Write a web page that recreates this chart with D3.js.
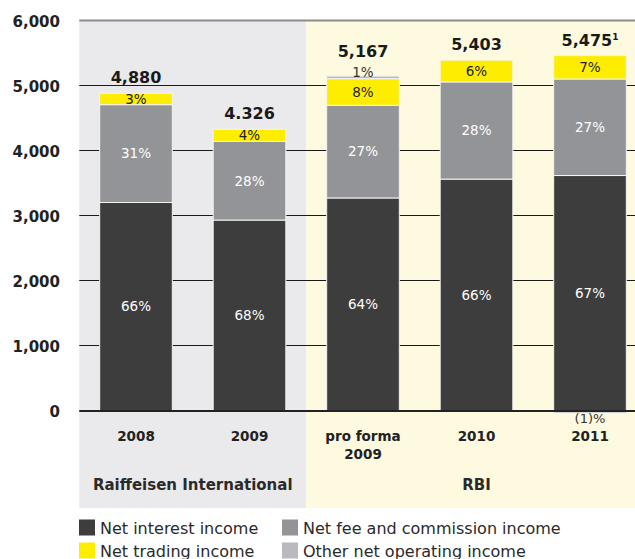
<!DOCTYPE html>
<html><head><meta charset="utf-8">
<script src="https://cdn.jsdelivr.net/npm/d3@7"></script>
<style>
body{margin:0;background:#fff;}
text{font-family:"DejaVu Sans",sans-serif;}
</style></head>
<body><svg id="chart" width="635" height="559"></svg>
<script>
const categories = ["2008", "2009", "pro forma 2009", "2010", "2011"];
const categoryLines = [["2008"], ["2009"], ["pro forma", "2009"], ["2010"], ["2011"]];
const netInterest = [3200, 2930, 3270, 3560, 3615];
const netFee = [1505, 1210, 1425, 1495, 1485];
const netTrading = [175, 186, 410, 335, 360];
const otherOperating = [0, 0, 40, 0, -40];
const pctInterest = ["66%", "68%", "64%", "66%", "67%"];
const pctFee = ["31%", "28%", "27%", "28%", "27%"];
const pctTrading = ["3%", "4%", "8%", "6%", "7%"];
const pctOther = [null, null, "1%", null, "(1)%"];
const totalLabels = ["4,880", "4.326", "5,167", "5,403", "5,475"];
const totalFootnote = [null, null, null, null, "1"];
const yTicks = [0, 1000, 2000, 3000, 4000, 5000, 6000];
const groupNames = ["Raiffeisen International", "RBI"];
const groupOf = [0, 0, 1, 1, 1];
const seriesNames = ["Net interest income", "Net fee and commission income", "Net trading income", "Other net operating income"];

const colors = {interest: "#3d3d3d", fee: "#939497", trading: "#ffed00", other: "#b9babd"};
const seriesColors = [colors.interest, colors.fee, colors.trading, colors.other];
const groupBg = ["#eaeaec", "#fefae0"];

const svg = d3.select("#chart");
const W = 635;
const x = d3.scaleBand().domain(categories).range([79.25, 646.75]).paddingInner(0.36).paddingOuter(0.18);
const y = d3.scaleLinear().domain([0, 6000]).range([410.5, 20.5]);
const step = x.step(), bw = x.bandwidth();
const halfGap = step * 0.36 / 2;

// group backgrounds
groupNames.forEach((g, gi) => {
  const cats = categories.filter((c, i) => groupOf[i] === gi);
  const x0 = x(cats[0]) - halfGap;
  const x1 = Math.min(W, x(cats[cats.length - 1]) + bw + halfGap);
  svg.append("rect").attr("x", x0).attr("y", y(6000)).attr("width", x1 - x0).attr("height", 508 - y(6000)).attr("fill", groupBg[gi]);
  const cx = d3.mean(cats, c => x(c) + bw / 2);
  svg.append("text").attr("x", cx).attr("y", 490).attr("text-anchor", "middle")
    .attr("font-size", 15).attr("font-weight", "bold").attr("fill", "#2a2a2a").text(g);
});

const plotLeft = x(categories[0]) - halfGap;
// gridlines
svg.append("g").selectAll("line").data(yTicks.filter(t => t > 0 && t < 6000)).join("line")
  .attr("x1", plotLeft).attr("x2", W).attr("y1", d => y(d)).attr("y2", d => y(d))
  .attr("stroke", "#1a1a1a").attr("stroke-width", 1);
svg.append("line").attr("x1", plotLeft).attr("x2", W).attr("y1", y(6000)).attr("y2", y(6000))
  .attr("stroke", "#8c8c8c").attr("stroke-width", 2.2);

// y axis labels
const yAxis = d3.axisLeft(y).tickValues(yTicks).tickSize(0).tickPadding(0).tickFormat(d3.format(","));
const ya = svg.append("g").attr("transform", "translate(60,1)").call(yAxis);
ya.select(".domain").remove();
ya.selectAll("text").attr("font-family", "DejaVu Sans").attr("font-size", 15).attr("font-weight", "bold").attr("fill", "#222");

// stacked bars
const stackData = categories.map((c, i) => {
  const segs = [];
  let base = 0;
  [netInterest[i], netFee[i], netTrading[i]].forEach((v, s) => {
    segs.push({cat: c, s, y0: base, y1: base + v, i});
    base += v;
  });
  if (otherOperating[i] > 0) { segs.push({cat: c, s: 3, y0: base, y1: base + otherOperating[i], i}); base += otherOperating[i]; }
  else if (otherOperating[i] < 0) { segs.push({cat: c, s: 3, y0: otherOperating[i], y1: 0, i}); }
  return {cat: c, i, segs, top: base};
});

const bars = svg.append("g");
stackData.forEach(d => {
  bars.selectAll(null).data(d.segs).join("rect")
    .attr("x", s => x(s.cat)).attr("width", bw)
    .attr("y", s => y(s.y1)).attr("height", s => y(s.y0) - y(s.y1))
    .attr("fill", s => seriesColors[s.s])
    .attr("stroke", "#f4f4f4").attr("stroke-width", 1);
});

// zero line
svg.append("line").attr("x1", plotLeft).attr("x2", W).attr("y1", y(0) + 0.5).attr("y2", y(0) + 0.5)
  .attr("stroke", "#222").attr("stroke-width", 2);

// percentage labels
const pctArrays = [pctInterest, pctFee, pctTrading];
stackData.forEach(d => {
  d.segs.forEach(s => {
    if (s.s < 3) {
      svg.append("text").attr("x", x(s.cat) + bw / 2).attr("y", (y(s.y0) + y(s.y1)) / 2)
        .attr("dy", "0.36em").attr("text-anchor", "middle").attr("font-size", 13.5)
        .attr("fill", s.s === 2 ? "#222" : "#fff").text(pctArrays[s.s][s.i]);
    }
  });
  const op = pctOther[d.i];
  if (op) {
    const cx = x(d.cat) + bw / 2;
    if (otherOperating[d.i] > 0) {
      svg.append("text").attr("x", cx).attr("y", y(d.top) + 1).attr("text-anchor", "middle")
        .attr("font-size", 13.5).attr("fill", "#333").text(op);
    } else {
      svg.append("text").attr("x", cx).attr("y", 423).attr("text-anchor", "middle")
        .attr("font-size", 13).attr("fill", "#333").text(op);
    }
  }
  // total label
  const off = (otherOperating[d.i] > 0) ? 19 : 10;
  const t = svg.append("text").attr("x", x(d.cat) + bw / 2).attr("y", y(d.top) - off)
    .attr("text-anchor", "middle").attr("font-size", 16).attr("font-weight", "bold").attr("fill", "#1a1a1a")
    .text(totalLabels[d.i]);
  if (totalFootnote[d.i]) {
    t.append("tspan").attr("font-size", 9).attr("dy", -6).text(totalFootnote[d.i]);
  }
});

// category labels
categories.forEach((c, i) => {
  const tx = svg.append("text").attr("x", x(c) + bw / 2).attr("y", 441).attr("text-anchor", "middle")
    .attr("font-size", 13.5).attr("font-weight", "bold").attr("fill", "#222");
  categoryLines[i].forEach((l, li) => {
    tx.append("tspan").attr("x", x(c) + bw / 2).attr("dy", li === 0 ? 0 : 18).text(l);
  });
});

// legend
const legendPos = [[79, 519.5], [282, 519.5], [79, 542.5], [282, 542.5]];
seriesNames.forEach((n, i) => {
  const [lx, ly] = legendPos[i];
  svg.append("rect").attr("x", lx).attr("y", ly).attr("width", 16).attr("height", 16).attr("fill", seriesColors[i]);
  svg.append("text").attr("x", lx + 21).attr("y", ly + 14).attr("font-size", 16).attr("fill", "#2a2a2a").text(n);
});
</script>
</body></html>
